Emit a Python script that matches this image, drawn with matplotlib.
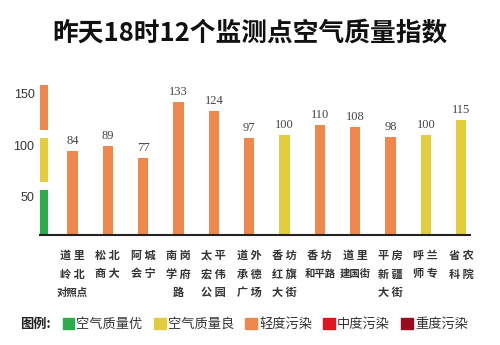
import matplotlib
matplotlib.use("Agg")
import matplotlib.pyplot as plt
from matplotlib.patches import Patch

plt.rcParams['font.family'] = ['Noto Sans CJK SC', 'DejaVu Sans']

# station names, one entry per line of the label
names = [
    ["道里", "岭北", "对照点"],
    ["松北", "商大"],
    ["阿城", "会宁"],
    ["南岗", "学府", "路"],
    ["太平", "宏伟", "公园"],
    ["道外", "承德", "广场"],
    ["香坊", "红旗", "大街"],
    ["香坊", "和平路"],
    ["道里", "建国街"],
    ["平房", "新疆", "大街"],
    ["呼兰", "师专"],
    ["省农", "科院"],
]
aqi = [84, 89, 77, 133, 124, 97, 100, 110, 108, 98, 100, 115]
levels = ["轻度污染", "轻度污染", "轻度污染", "轻度污染", "轻度污染", "轻度污染",
          "空气质量良", "轻度污染", "轻度污染", "轻度污染", "空气质量良", "空气质量良"]

legend_names = ["空气质量优", "空气质量良", "轻度污染", "中度污染", "重度污染"]
legend_colors = ["#2bad4a", "#e2cd3c", "#f0884c", "#e0151f", "#990b1f"]
level_color = dict(zip(legend_names, legend_colors))

# left colour scale: (bottom, top) of each segment
scale_bottom = [0, 53, 105]
scale_top = [45, 97, 150]
scale_colors = legend_colors[:3]
ytick_pos = [38, 90, 142]
ytick_text = ["50", "100", "150"]

fig = plt.figure(figsize=(5, 3.45), dpi=100)
ax = fig.add_axes([0.08, 0.319, 0.86, 0.44])

xs = list(range(1, len(aqi) + 1))
ax.bar(xs, aqi, width=0.3, color=[level_color[l] for l in levels])
for x, v in zip(xs, aqi):
    ax.text(x, v + 4, str(v), ha="center", va="bottom", fontsize=9,
            family="Liberation Serif", color="#444444")

ax.bar([0.2] * 3, [t - b for b, t in zip(scale_bottom, scale_top)],
       bottom=scale_bottom, width=0.22, color=scale_colors)

ax.set_xlim(0.08, 12.25)
ax.set_ylim(0, 152)
ax.set_yticks(ytick_pos)
ax.set_yticklabels(ytick_text, fontsize=9, color="#333333", family="Liberation Sans")
ax.tick_params(axis="y", length=0, pad=4)
ax.set_xticks([])
for s in ["top", "right", "left"]:
    ax.spines[s].set_visible(False)
ax.spines["bottom"].set_linewidth(1.5)
ax.spines["bottom"].set_color("#222222")

trans = ax.get_xaxis_transform()
for x, lines in zip(xs, names):
    for i, line in enumerate(lines):
        if len(line) <= 2:
            txt, size = " ".join(line), 8
        else:
            txt, size = line, 7.5
        ax.text(x, -0.135 - i * 0.122, txt, transform=trans, ha="center",
                va="center", fontsize=size, color="#333333", fontweight="bold")

fig.text(0.5, 0.905, "昨天18时12个监测点空气质量指数", ha="center", va="center",
         fontsize=18.5, fontweight="bold", color="#111111")

fig.text(0.04, 0.06, "图例:", ha="left", va="center", fontsize=9.5,
         fontweight="bold", color="#222222")
handles = [Patch(color=c, label=n) for n, c in zip(legend_names, legend_colors)]
fig.legend(handles=handles, loc="center left", bbox_to_anchor=(0.125, 0.06),
           ncol=5, frameon=False, fontsize=9.5, handlelength=0.9,
           handleheight=0.9, handletextpad=0.15, columnspacing=0.85,
           borderaxespad=0, borderpad=0, labelcolor="#333333")

fig.savefig("out.png", dpi=100)
